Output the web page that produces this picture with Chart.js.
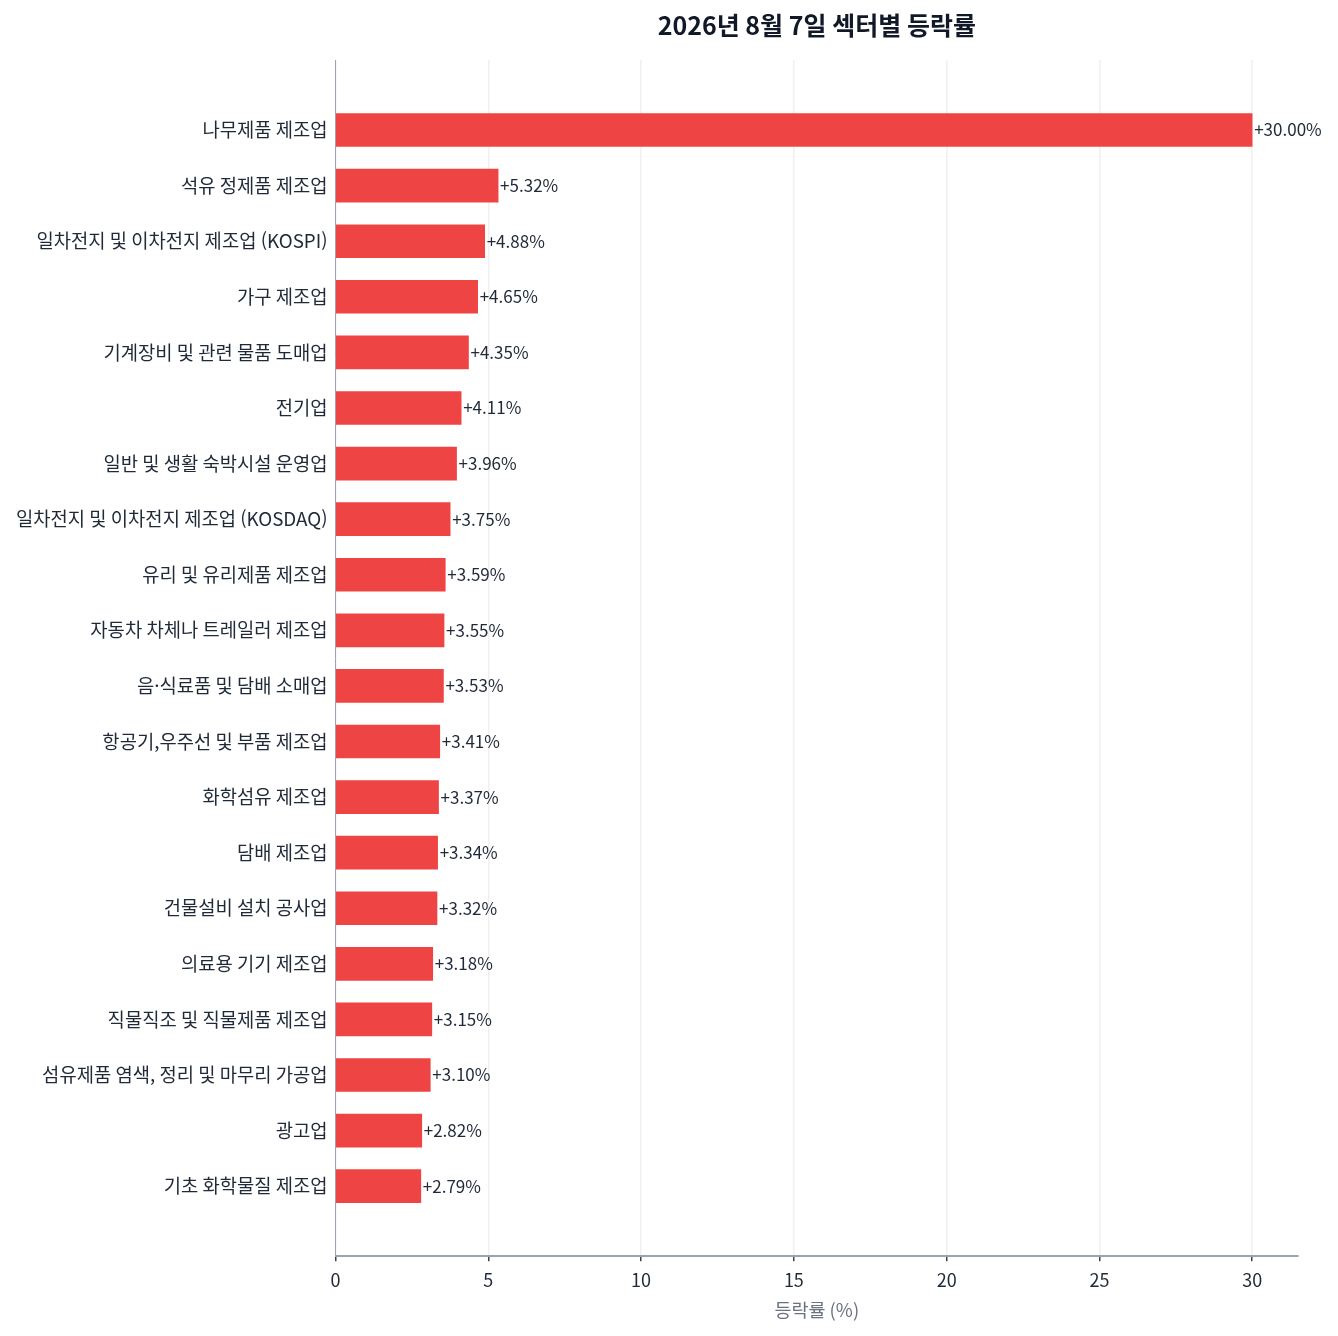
<!DOCTYPE html>
<html lang="ko">
<head>
<meta charset="utf-8">
<script src="https://cdn.jsdelivr.net/npm/chart.js@4.4.1/dist/chart.umd.min.js"></script>
<style>
  html, body { margin: 0; padding: 0; background: #ffffff; }
  #wrap { width: 1338px; height: 1336px; }
</style>
</head>
<body>
<div id="wrap"><canvas id="chart"></canvas></div>
<script>
const chartTitle = '2026년 8월 7일 섹터별 등락률';
const axisTitle = '등락률 (%)';
const sectors = [
    '나무제품 제조업',
    '석유 정제품 제조업',
    '일차전지 및 이차전지 제조업 (KOSPI)',
    '가구 제조업',
    '기계장비 및 관련 물품 도매업',
    '전기업',
    '일반 및 생활 숙박시설 운영업',
    '일차전지 및 이차전지 제조업 (KOSDAQ)',
    '유리 및 유리제품 제조업',
    '자동차 차체나 트레일러 제조업',
    '음·식료품 및 담배 소매업',
    '항공기,우주선 및 부품 제조업',
    '화학섬유 제조업',
    '담배 제조업',
    '건물설비 설치 공사업',
    '의료용 기기 제조업',
    '직물직조 및 직물제품 제조업',
    '섬유제품 염색, 정리 및 마무리 가공업',
    '광고업',
    '기초 화학물질 제조업'
];
const changes = [30.00, 5.32, 4.88, 4.65, 4.35, 4.11, 3.96, 3.75, 3.59, 3.55,
                 3.53, 3.41, 3.37, 3.34, 3.32, 3.18, 3.15, 3.10, 2.82, 2.79];
const xTicks = [0, 5, 10, 15, 20, 25, 30];

const FONT = '"Noto Sans CJK KR", "Noto Sans", sans-serif';

// value labels at the end of each bar
const valueLabels = {
    id: 'valueLabels',
    afterDatasetsDraw(chart) {
        const ctx = chart.ctx;
        const meta = chart.getDatasetMeta(0);
        ctx.save();
        ctx.font = '17px ' + FONT;
        ctx.fillStyle = '#1f2937';
        ctx.textAlign = 'left';
        ctx.textBaseline = 'middle';
        meta.data.forEach((bar, i) => {
            const v = changes[i];
            const txt = (v >= 0 ? '+' : '') + v.toFixed(2) + '%';
            ctx.fillText(txt, bar.x + 2, bar.y);
        });
        ctx.restore();
    }
};

new Chart(document.getElementById('chart'), {
    type: 'bar',
    data: {
        datasets: [{
            data: changes.map((v, i) => ({ x: v, y: i })),
            backgroundColor: '#ef4444',
            borderWidth: 0,
            barThickness: 33
        }]
    },
    options: {
        indexAxis: 'y',
        responsive: true,
        maintainAspectRatio: false,
        animation: false,
        layout: {
            padding: { top: 10, right: 40, bottom: 15, left: 8 }
        },
        scales: {
            x: {
                type: 'linear',
                min: 0,
                max: 31.5,
                afterBuildTicks: (scale) => {
                    scale.ticks = xTicks.map(v => ({ value: v }));
                },
                grid: {
                    color: '#f0f0f0',
                    lineWidth: 1.5,
                    tickColor: '#374151',
                    tickLength: 5
                },
                border: { display: true, color: '#9ca3af', width: 2 },
                ticks: {
                    color: '#1f2937',
                    font: { family: FONT, size: 18 },
                    padding: 8
                },
                title: {
                    display: true,
                    text: axisTitle,
                    color: '#6b7280',
                    font: { family: FONT, size: 18.5 },
                    padding: { top: 0, bottom: 0 }
                }
            },
            y: {
                type: 'linear',
                reverse: true,
                offset: false,
                min: -1.26,
                max: 20.26,
                afterBuildTicks: (scale) => {
                    scale.ticks = sectors.map((s, i) => ({ value: i }));
                },
                grid: { display: false, drawTicks: false },
                border: { display: true, color: '#9ca3af', width: 1 },
                ticks: {
                    autoSkip: false,
                    color: '#1f2937',
                    font: { family: FONT, size: 18.8 },
                    padding: 8,
                    callback: (value) => sectors[value] ?? ''
                }
            }
        },
        plugins: {
            legend: { display: false },
            tooltip: { enabled: false },
            title: {
                display: true,
                text: chartTitle,
                fullSize: false,
                color: '#111827',
                font: { family: FONT, size: 25, weight: 'bold' },
                padding: { top: 0, bottom: 20 }
            }
        }
    },
    plugins: [valueLabels]
});
</script>
</body>
</html>
